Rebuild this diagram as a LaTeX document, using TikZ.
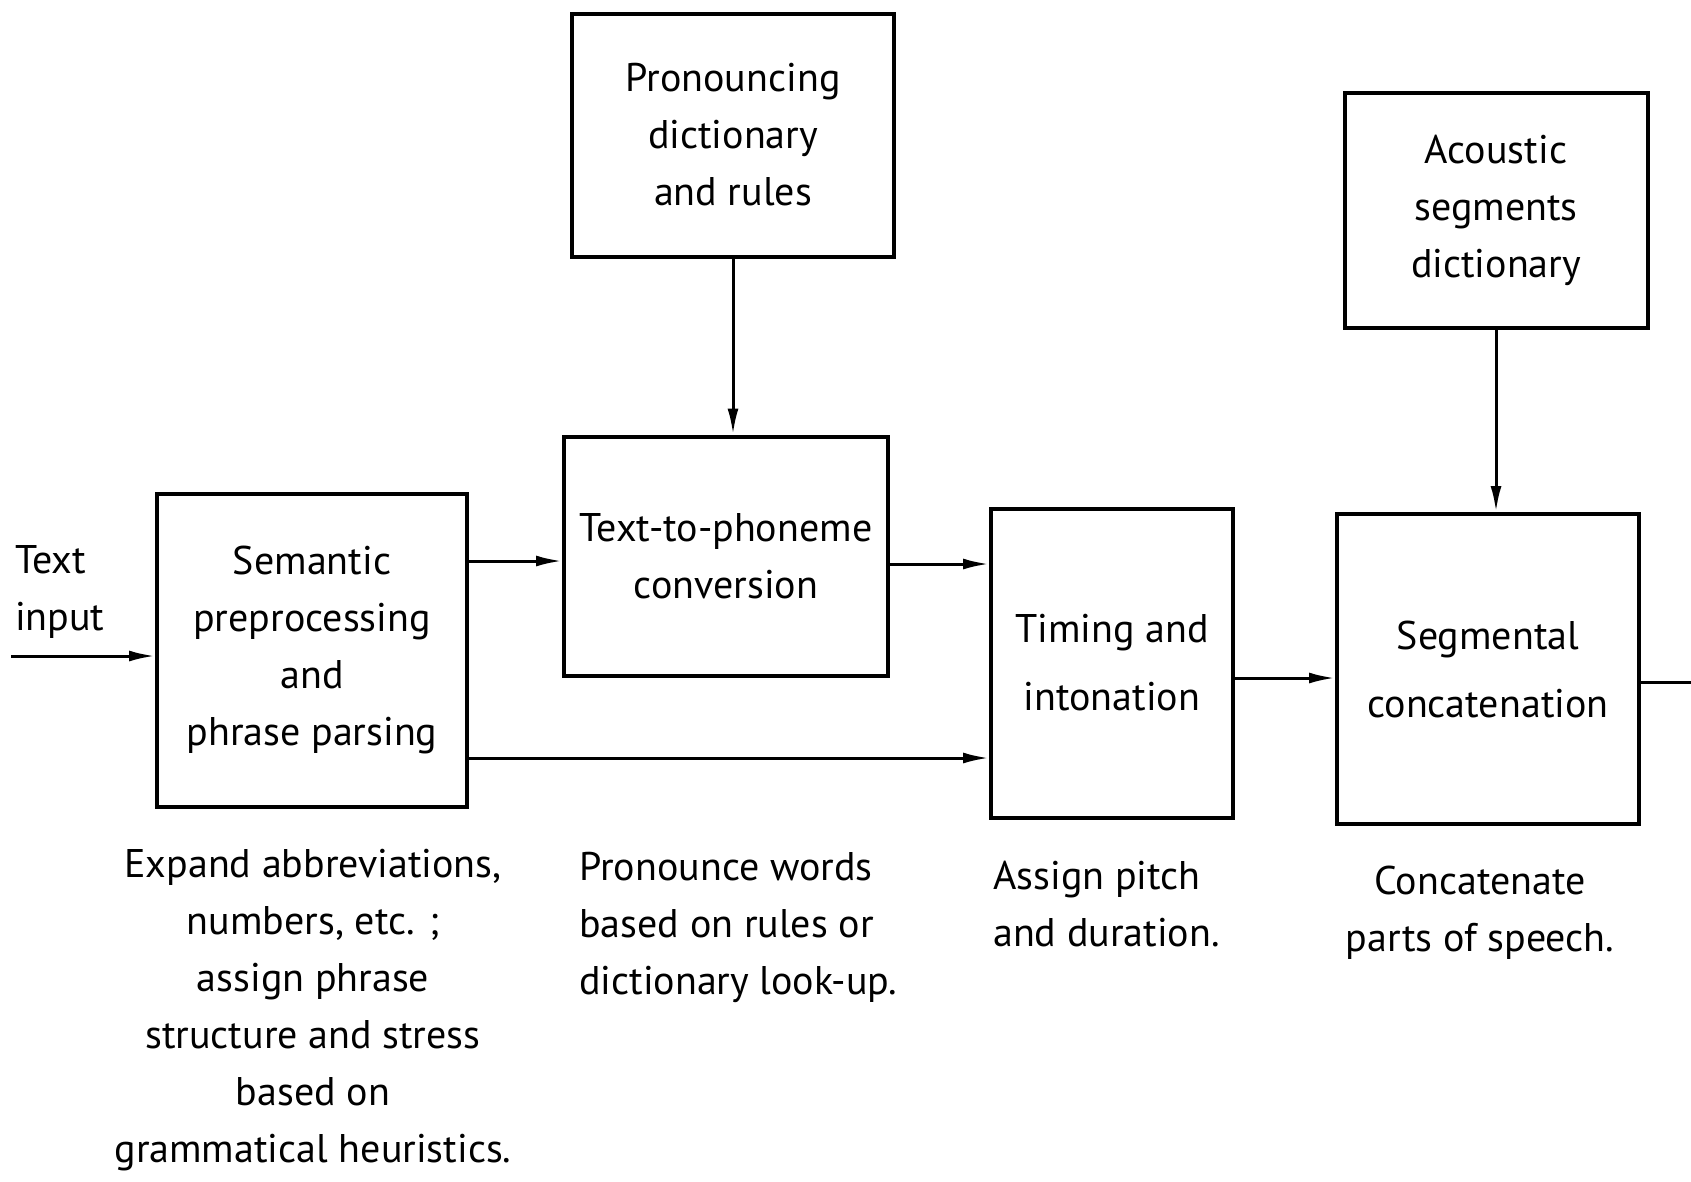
\documentclass[tikz,border=0pt]{standalone}
\usepackage{fontspec}
\setmainfont{PT Sans}
\usetikzlibrary{arrows.meta}
\begin{document}
\begin{tikzpicture}[x=1pt,y=-1pt,
  every node/.style={font=\fontsize{40}{57}\selectfont},
  blk/.style={draw,line width=4pt,inner sep=0pt,align=center},
  wide/.style={font=\fontsize{40}{68}\selectfont},
  arr/.style={line width=3pt,-{Latex[length=26pt,width=11pt]}},
  ln/.style={line width=3pt},
  desc/.style={inner sep=0pt}]
\path[use as bounding box] (0,0) rectangle (1691,1181);
% boxes
\node[blk,minimum width=310pt,minimum height=313pt] (sem) at (312,650) {Semantic\\preprocessing\\and\\phrase parsing};
\node[blk,minimum width=324pt,minimum height=239pt] (t2p) at (726,556) {Text-to-phoneme\\conversion};
\node[blk,minimum width=322pt,minimum height=243pt] (pron) at (733,135) {Pronouncing\\dictionary\\and rules};
\node[blk,wide,minimum width=242pt,minimum height=309pt] (tim) at (1112,663) {Timing and\\intonation};
\node[blk,wide,minimum width=302pt,minimum height=310pt] (seg) at (1488,669) {Segmental\\concatenation};
\node[blk,minimum width=303pt,minimum height=235pt] (aco) at (1496,210) {Acoustic\\segments\\dictionary};
% input / output
\node[desc,anchor=west,align=left] (inlbl) at (15,592) {Text\\input};
\coordinate (in) at (11,656);
\coordinate (out) at (1691,682);
% connectors
\draw[arr] (in) -- (sem.west |- in);
\draw[arr] (sem.east |- 0,561) -- (t2p.west |- 0,561);
\draw[arr] (sem.east |- 0,758) -- (tim.west |- 0,758);
\draw[arr] (t2p.east |- 0,564) -- (tim.west |- 0,564);
\draw[arr] (tim.east |- 0,678) -- (seg.west |- 0,678);
\draw[ln] (seg.east |- out) -- (out);
\draw[arr] (pron.south) -- (pron.south |- t2p.north);
\draw[arr] (aco.south) -- (aco.south |- seg.north);
% descriptions
\node[desc,align=center,anchor=north] (d1) at (313,849) {Expand abbreviations,\\numbers, etc. ;\\assign phrase\\structure and stress\\based on\\grammatical heuristics.};
\node[desc,align=left,anchor=north west] (d2) at (579,852) {Pronounce words\\based on rules or\\dictionary look-up.};
\node[desc,align=left,anchor=north west] (d3) at (993,861) {Assign pitch\\and duration.};
\node[desc,align=center,anchor=north] (d4) at (1480,866) {Concatenate\\parts of speech.};
\end{tikzpicture}
\end{document}
